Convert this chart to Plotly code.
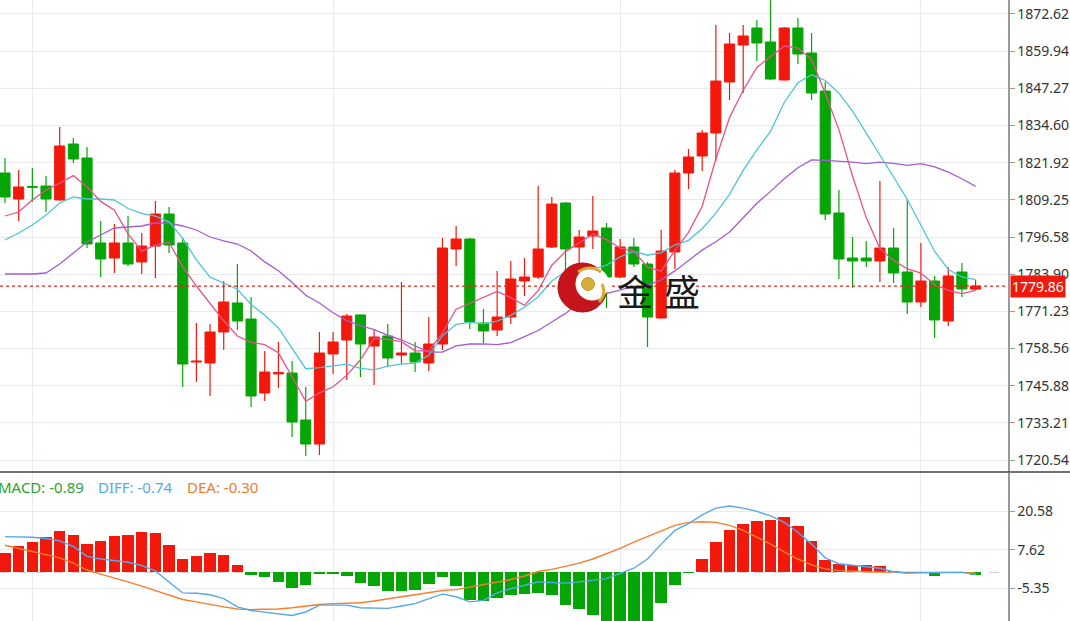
import plotly.graph_objects as go

# ---------------- data ----------------
idx = list(range(72))

open_ = [1818.40, 1809.54, 1813.80, 1813.97, 1809.20, 1828.29, 1823.52, 1794.54, 1789.42, 1794.54,
         1788.06, 1793.51, 1804.42, 1794.54, 1753.96, 1753.62, 1764.19, 1774.08, 1768.62, 1743.39,
         1749.90, 1750.21, 1734.18, 1725.99, 1756.69, 1761.46, 1769.99, 1759.41, 1762.82, 1756.35,
         1757.03, 1753.62, 1760.09, 1792.49, 1795.90, 1767.26, 1764.87, 1769.30, 1781.58, 1782.94,
         1793.17, 1808.17, 1793.17, 1796.92, 1799.65, 1782.94, 1793.17, 1787.37, 1768.96, 1791.47,
         1818.40, 1824.20, 1832.04, 1849.43, 1862.05, 1867.85, 1863.07, 1850.12, 1867.85, 1859.32,
         1846.36, 1804.76, 1789.42, 1789.42, 1788.40, 1792.83, 1784.64, 1774.42, 1781.58, 1767.94,
         1784.64, 1778.80]
high = [1823.52, 1819.43, 1820.11, 1817.38, 1834.09, 1830.34, 1827.27, 1802.04, 1801.01, 1803.74,
        1797.94, 1808.86, 1806.81, 1796.24, 1767.26, 1766.92, 1781.58, 1787.37, 1776.12, 1757.71,
        1760.78, 1754.30, 1745.43, 1764.19, 1764.19, 1770.33, 1770.10, 1764.87, 1766.92, 1781.24,
        1760.78, 1769.30, 1796.24, 1800.33, 1796.24, 1772.03, 1784.98, 1788.39, 1789.42, 1813.97,
        1810.22, 1808.51, 1798.97, 1810.56, 1801.35, 1795.90, 1796.24, 1788.06, 1798.97, 1819.43,
        1826.59, 1833.07, 1868.87, 1866.14, 1868.87, 1870.57, 1877.30, 1868.19, 1871.26, 1866.14,
        1849.43, 1812.61, 1796.58, 1795.22, 1815.68, 1799.65, 1809.20, 1794.54, 1783.28, 1786.35,
        1787.71, 1781.92]
low = [1808.17, 1802.04, 1808.51, 1805.10, 1809.00, 1821.81, 1792.83, 1782.94, 1784.30, 1786.69,
       1783.96, 1782.60, 1791.12, 1745.43, 1747.14, 1742.37, 1758.05, 1764.87, 1738.62, 1740.66,
       1745.09, 1728.38, 1721.90, 1722.24, 1749.87, 1747.82, 1748.84, 1746.11, 1752.25, 1753.28,
       1750.55, 1750.89, 1758.05, 1786.69, 1765.21, 1760.43, 1762.82, 1766.92, 1776.46, 1782.26,
       1792.83, 1785.33, 1785.33, 1792.49, 1772.37, 1782.60, 1786.35, 1759.07, 1768.80, 1785.67,
       1812.95, 1819.09, 1822.50, 1843.29, 1845.68, 1856.59, 1850.12, 1849.90, 1855.57, 1843.29,
       1802.38, 1782.26, 1779.19, 1786.35, 1781.24, 1780.90, 1770.33, 1772.71, 1762.14, 1766.23,
       1776.12, 1778.60]
close = [1810.22, 1813.63, 1813.50, 1809.54, 1827.61, 1823.18, 1794.19, 1789.08, 1794.54, 1787.37,
         1793.51, 1804.42, 1793.85, 1753.28, 1754.30, 1764.19, 1774.42, 1767.94, 1742.37, 1750.55,
         1750.40, 1733.50, 1725.99, 1757.03, 1760.78, 1769.64, 1760.09, 1762.48, 1755.32, 1757.03,
         1753.96, 1760.09, 1792.83, 1795.90, 1767.60, 1764.53, 1769.30, 1782.26, 1782.94, 1792.49,
         1807.83, 1792.49, 1796.58, 1798.62, 1782.94, 1793.17, 1787.37, 1769.30, 1791.81, 1818.40,
         1823.86, 1832.04, 1849.77, 1862.39, 1865.12, 1862.73, 1850.45, 1867.85, 1858.98, 1845.68,
         1804.42, 1789.08, 1788.40, 1788.40, 1792.83, 1784.30, 1774.42, 1781.58, 1768.28, 1783.28,
         1778.85, 1779.86]

ma5 = [1803.74, 1805.10, 1809.20, 1812.61, 1814.93, 1817.52, 1813.63, 1808.72, 1805.72, 1797.67,
       1791.74, 1793.78, 1794.74, 1786.49, 1779.87, 1774.01, 1768.01, 1762.82, 1760.64, 1759.89,
       1757.09, 1748.91, 1740.52, 1743.45, 1745.50, 1749.39, 1754.71, 1762.00, 1761.66, 1760.91,
       1757.77, 1757.77, 1763.85, 1771.96, 1774.07, 1776.19, 1778.03, 1775.91, 1773.32, 1778.30,
       1786.96, 1791.60, 1794.46, 1797.60, 1795.69, 1792.76, 1791.74, 1786.28, 1784.92, 1792.01,
       1798.15, 1807.08, 1823.17, 1837.29, 1846.63, 1854.41, 1858.09, 1861.70, 1861.02, 1857.14,
       1845.47, 1833.20, 1817.31, 1803.19, 1792.62, 1788.60, 1785.67, 1784.30, 1780.28, 1778.37,
       1777.28, 1778.37]
ma10 = [1795.56, 1797.94, 1800.67, 1804.08, 1808.17, 1810.22, 1809.54, 1809.54, 1809.20, 1806.30,
        1804.63, 1803.71, 1801.73, 1796.10, 1788.77, 1782.87, 1780.89, 1778.78, 1773.56, 1769.88,
        1765.55, 1758.46, 1751.67, 1752.05, 1752.69, 1753.24, 1751.81, 1751.26, 1752.56, 1753.21,
        1753.58, 1756.24, 1762.92, 1766.81, 1767.49, 1766.98, 1767.90, 1769.88, 1772.64, 1776.19,
        1781.57, 1784.81, 1785.19, 1785.46, 1787.00, 1789.86, 1791.67, 1790.37, 1791.26, 1793.85,
        1795.45, 1799.41, 1804.73, 1811.10, 1819.32, 1826.28, 1832.59, 1842.44, 1849.16, 1851.88,
        1849.94, 1845.64, 1839.51, 1832.11, 1824.88, 1817.04, 1809.43, 1800.81, 1791.74, 1785.50,
        1782.94, 1782.02]
ma20 = [1783.96, 1783.96, 1783.96, 1784.30, 1787.37, 1791.12, 1794.87, 1797.26, 1799.65, 1799.99,
        1800.33, 1801.35, 1801.35, 1800.33, 1798.97, 1796.58, 1795.22, 1794.19, 1791.81, 1788.09,
        1785.09, 1781.08, 1776.70, 1774.07, 1770.73, 1768.06, 1766.35, 1765.02, 1763.06, 1761.54,
        1759.56, 1757.35, 1757.30, 1759.43, 1760.09, 1760.11, 1759.85, 1760.57, 1762.60, 1764.70,
        1767.58, 1770.53, 1774.06, 1776.14, 1777.25, 1778.42, 1779.78, 1780.13, 1781.95, 1785.02,
        1788.51, 1792.11, 1794.96, 1798.28, 1803.16, 1808.07, 1812.13, 1816.41, 1820.21, 1822.87,
        1822.70, 1822.53, 1822.12, 1821.61, 1822.10, 1821.66, 1821.01, 1821.62, 1820.45, 1818.69,
        1816.44, 1813.83]

macd_hist = [6.6, 8.7, 10.3, 11.8, 13.9, 12.4, 9.7, 10.6, 12.1, 12.6,
             13.5, 13.1, 9.2, 4.6, 5.4, 6.5, 5.8, 2.5, -0.9, -1.5,
             -3.2, -5.3, -4.4, -0.6, -0.6, -1.2, -3.6, -4.6, -6.1, -6.1,
             -5.8, -4.0, -1.7, -4.6, -9.2, -9.6, -8.7, -7.5, -7.3, -6.9,
             -7.5, -10.8, -12.3, -14.2, -16.9, -16.9, -17.7, -16.8, -10.4, -4.4,
             -0.2, 4.6, 10.2, 14.1, 16.2, 17.2, 17.5, 18.7, 15.5, 10.5,
             4.3, 2.7, 2.5, 2.4, 2.0, 0.5, -0.3, -0.2, -1.2, 0.3,
             0.2, -0.89]
diff = [12.0, 12.0, 11.8, 11.4, 10.6, 8.7, 5.4, 4.5, 4.0, 3.4,
        2.3, 0.5, -3.2, -6.9, -7.0, -7.5, -8.8, -11.6, -12.8, -13.3,
        -13.9, -14.5, -13.3, -11.0, -11.0, -11.0, -11.9, -12.1, -12.1, -11.3,
        -10.5, -8.8, -7.3, -8.2, -9.9, -9.4, -6.9, -5.5, -4.4, -3.2,
        -3.4, -3.6, -3.2, -2.7, -2.1, -0.3, 1.4, 4.5, 9.5, 14.1,
        16.4, 19.3, 21.6, 22.3, 21.6, 20.5, 19.0, 16.8, 13.5, 9.5,
        4.9, 2.9, 2.4, 2.1, 1.4, 0.2, -0.3, -0.1, 0.0, 0.1,
        0.0, -0.74]
dea = [9.1, 8.0, 6.9, 6.0, 4.9, 3.1, 0.8, -0.6, -1.8, -3.2,
       -4.6, -6.1, -7.6, -9.1, -9.9, -10.8, -11.6, -12.3, -12.5, -12.4,
       -12.3, -11.9, -11.3, -10.8, -10.5, -10.4, -10.2, -9.6, -9.0, -8.2,
       -7.5, -6.7, -6.1, -5.8, -5.0, -4.2, -3.2, -2.4, -1.2, 0.3,
       1.0, 2.0, 3.1, 4.5, 6.2, 8.1, 10.2, 12.1, 14.1, 15.8,
       16.8, 17.0, 16.8, 15.8, 14.1, 11.8, 9.5, 6.9, 4.5, 2.5,
       1.2, 0.6, 0.3, 0.2, 0.1, 0.0, 0.0, 0.0, 0.0, 0.0,
       0.0, -0.30]

price_ticks = ["1720.54", "1733.21", "1745.88", "1758.56", "1771.23", "1783.90", "1796.58",
               "1809.25", "1821.92", "1834.60", "1847.27", "1859.94", "1872.62"]
macd_ticks = ["20.58", "7.62", "-5.35"]
macd_cut_tick = "-18.31"
date_breaks = [2, 24, 45, 67]
last_price = close[-1]
macd_labels = [("MACD", macd_hist[-1]), ("DIFF", diff[-1]), ("DEA", dea[-1])]
watermark = ["金", "盛"]

# ---------------- styles ----------------
RED = "#f2190c"
GREEN = "#06a506"
GRID = "#e7ebf1"
AXIS = "#9a9a9a"
FONT = "Noto Sans"
W, H = 1070, 621
PLOT_W = 1008

def px_x(px):
    return px / PLOT_W

def px_y(py):
    return (H - py) / H

up = [c >= o for o, c in zip(open_, close)]
cols = [RED if u else GREEN for u in up]
body_base = [min(o, c) for o, c in zip(open_, close)]
body_h = [max(abs(c - o), 0.15) for o, c in zip(open_, close)]

fig = go.Figure()

# candle bodies
fig.add_trace(go.Bar(x=idx, y=body_h, base=body_base, width=0.74,
                     marker=dict(color=cols, line=dict(color=cols, width=1)),
                     xaxis="x", yaxis="y", hoverinfo="skip"))

# wicks
for flag, col in ((True, RED), (False, GREEN)):
    xs, ys = [], []
    for i in idx:
        if up[i] == flag:
            xs += [i, i, None]
            ys += [low[i], high[i], None]
    fig.add_trace(go.Scatter(x=xs, y=ys, mode="lines", line=dict(color=col, width=1.2),
                             xaxis="x", yaxis="y", hoverinfo="skip"))

# moving averages
for vals, col in ((ma20, "#a75ccb"), (ma10, "#4cc5d8"), (ma5, "#e8518a")):
    fig.add_trace(go.Scatter(x=idx, y=vals, mode="lines", line=dict(color=col, width=1.3),
                             xaxis="x", yaxis="y", hoverinfo="skip"))

# MACD histogram + lines
fig.add_trace(go.Bar(x=idx, y=macd_hist, width=0.84,
                     marker=dict(color=[RED if v >= 0 else GREEN for v in macd_hist], line=dict(width=0)),
                     xaxis="x2", yaxis="y2", hoverinfo="skip"))
fig.add_trace(go.Scatter(x=idx, y=dea, mode="lines", line=dict(color="#f57f2c", width=1.4),
                         xaxis="x2", yaxis="y2", hoverinfo="skip"))
fig.add_trace(go.Scatter(x=idx, y=diff, mode="lines", line=dict(color="#56a8e8", width=1.4),
                         xaxis="x2", yaxis="y2", hoverinfo="skip"))

xrange = [-0.366, 73.37]
main_dom = [px_y(472), 1]
macd_dom = [0, px_y(473)]

fig.update_layout(
    width=W, height=H, margin=dict(l=0, r=W - PLOT_W, t=0, b=0, autoexpand=False),
    paper_bgcolor="white", plot_bgcolor="white", showlegend=False,
    barmode="overlay", bargap=0, hovermode=False,
    xaxis=dict(domain=[0, 1], range=xrange, anchor="y", tickvals=date_breaks, showticklabels=False,
               showgrid=True, gridcolor=GRID, gridwidth=1, zeroline=False, ticks="", fixedrange=True),
    yaxis=dict(domain=main_dom, range=[1716.45, 1877.39], side="right",
               tickvals=[float(t) for t in price_ticks], ticktext=price_ticks,
               showgrid=True, gridcolor=GRID, gridwidth=1, zeroline=False,
               showline=True, linecolor=AXIS, linewidth=1.5,
               ticks="outside", ticklen=5, tickcolor=AXIS, tickwidth=1,
               tickfont=dict(family=FONT, size=14, color="#333333"), fixedrange=True),
    xaxis2=dict(domain=[0, 1], range=xrange, anchor="y2", tickvals=date_breaks, showticklabels=False,
                showgrid=True, gridcolor=GRID, gridwidth=1, zeroline=False, ticks="", fixedrange=True),
    yaxis2=dict(domain=macd_dom, range=[-16.33, 33.39], side="right",
                tickvals=[float(t) for t in macd_ticks], ticktext=macd_ticks,
                showgrid=True, gridcolor=GRID, gridwidth=1, zeroline=False,
                showline=True, linecolor=AXIS, linewidth=1.5,
                ticks="outside", ticklen=5, tickcolor=AXIS, tickwidth=1,
                tickfont=dict(family=FONT, size=14, color="#333333"), fixedrange=True),
)

shapes = [
    # current price dotted line
    dict(type="line", xref="paper", yref="y", x0=0, x1=1, y0=last_price, y1=last_price,
         line=dict(color="#e0261a", width=1.3, dash="dot"), layer="above"),
    # MACD zero line
    dict(type="line", xref="paper", yref="y2", x0=0, x1=1, y0=0, y1=0,
         line=dict(color="#c9c9c9", width=1, dash="dash"), layer="below"),
    # panel separator
    dict(type="line", xref="paper", yref="paper", x0=0, x1=W / PLOT_W, y0=px_y(472), y1=px_y(472),
         line=dict(color="#444444", width=1.5), layer="above"),
    # logo: red sphere with crescent opening and gold ball
    dict(type="circle", xref="paper", yref="paper",
         x0=px_x(558), x1=px_x(607), y0=px_y(312), y1=px_y(263),
         fillcolor="#c5141b", line=dict(color="#a30f15", width=1), layer="above"),
    dict(type="circle", xref="paper", yref="paper",
         x0=px_x(575.5), x1=px_x(609), y0=px_y(300.5), y1=px_y(267),
         fillcolor="white", line=dict(width=0), layer="above"),
    dict(type="circle", xref="paper", yref="paper",
         x0=px_x(581.5), x1=px_x(594.5), y0=px_y(290.5), y1=px_y(277.5),
         fillcolor="#d6ad3c", line=dict(color="#c49a2a", width=1), layer="above"),
    dict(type="path", xref="paper", yref="paper",
         path="M %f %f Q %f %f %f %f" % (px_x(578), px_y(272), px_x(590), px_y(264), px_x(601), px_y(272)),
         line=dict(color="#d9a935", width=3), layer="above"),
    dict(type="path", xref="paper", yref="paper",
         path="M %f %f Q %f %f %f %f" % (px_x(602), px_y(284), px_x(607), px_y(294), px_x(599), px_y(302)),
         line=dict(color="#d9a935", width=3), layer="above"),
]
fig.update_layout(shapes=shapes)

annotations = [
    dict(text="%.2f" % last_price, xref="paper", yref="y", x=1, y=last_price,
         xanchor="left", yanchor="middle", xshift=2, showarrow=False,
         bgcolor=RED, borderpad=1, font=dict(family=FONT, size=14, color="white")),
    dict(text=macd_cut_tick, xref="paper", yref="paper", x=1, y=px_y(625),
         xanchor="left", yanchor="middle", xshift=8, showarrow=False,
         font=dict(family=FONT, size=14, color="#333333")),
]
for ch, cx in zip(watermark, (635, 682)):
    annotations.append(dict(text=ch, xref="paper", yref="paper", x=px_x(cx), y=px_y(290),
                            xanchor="center", yanchor="middle", showarrow=False,
                            font=dict(family="Noto Sans CJK SC", size=36, color="#1a1a1a")))
label_pos = [(-4, "#2f9f2f"), (96, "#56a8e8"), (185, "#f07a30")]
for (name, val), (lx, col) in zip(macd_labels, label_pos):
    annotations.append(dict(text="%s: %.2f" % (name, val), xref="paper", yref="paper",
                            x=px_x(lx), y=px_y(487), xanchor="left", yanchor="middle",
                            showarrow=False, font=dict(family=FONT, size=15, color=col)))
fig.update_layout(annotations=annotations)

fig.write_html("out.html", config={"displayModeBar": False, "staticPlot": True},
               post_script="document.body.style.margin='0';document.body.style.overflow='hidden';")
